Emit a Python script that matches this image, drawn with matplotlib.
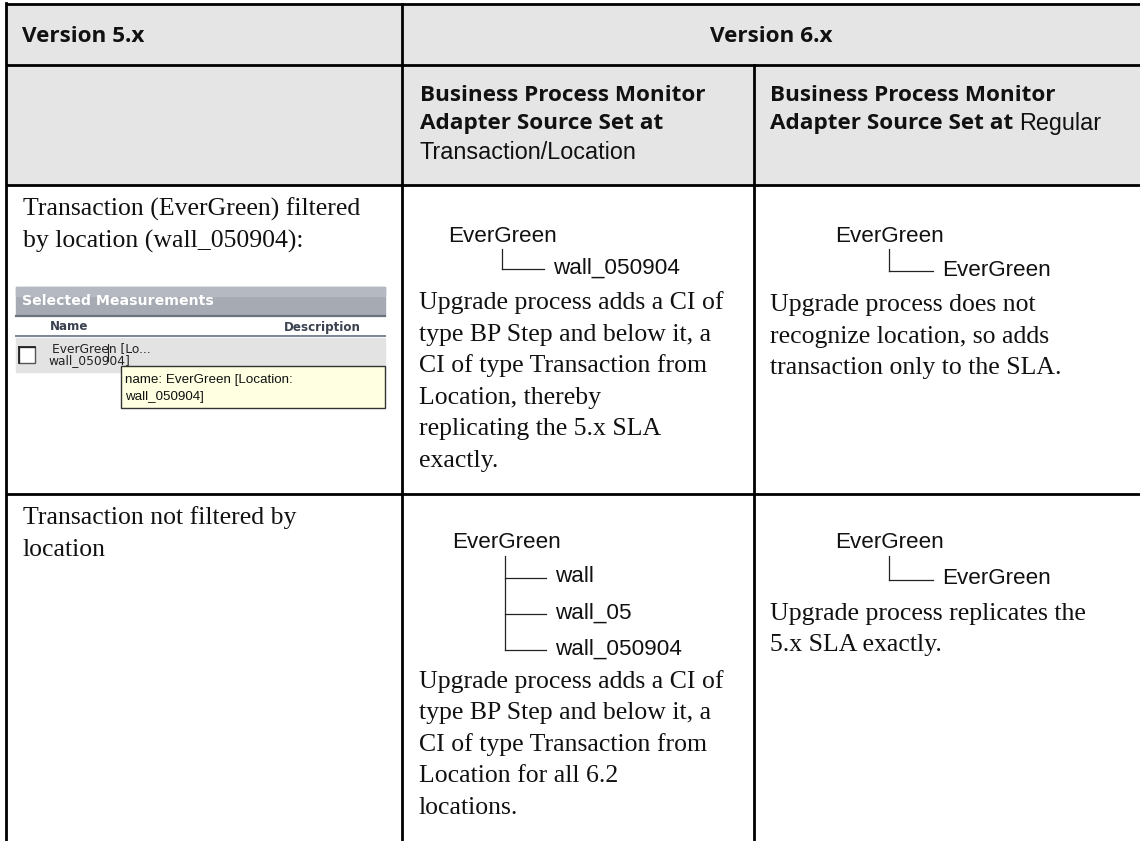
import matplotlib
matplotlib.use("Agg")
import matplotlib.pyplot as plt
from matplotlib.patches import Rectangle

W, H = 1140, 841

# table content
top_headers = ["Version 5.x", "Version 6.x"]
hdr_bold = ["Business Process Monitor", "Adapter Source Set at"]
hdr_setting = ["Transaction/Location", "Regular"]

v5_rows = [["Transaction (EverGreen) filtered", "by location (wall_050904):"],
           ["Transaction not filtered by", "location"]]

tree_root = "EverGreen"
tree_children = [["wall_050904"], ["EverGreen"],
                 ["wall", "wall_05", "wall_050904"], ["EverGreen"]]

notes = [["Upgrade process adds a CI of", "type BP Step and below it, a",
          "CI of type Transaction from", "Location, thereby",
          "replicating the 5.x SLA", "exactly."],
         ["Upgrade process does not", "recognize location, so adds",
          "transaction only to the SLA."],
         ["Upgrade process adds a CI of", "type BP Step and below it, a",
          "CI of type Transaction from", "Location for all 6.2",
          "locations."],
         ["Upgrade process replicates the", "5.x SLA exactly."]]

shot_title = "Selected Measurements"
shot_cols = ["Name", "Description"]
shot_item = ["EverGreen [Lo...", "wall_050904]"]
shot_tip = ["name: EverGreen [Location:", "wall_050904]"]

fig = plt.figure(figsize=(W / 100, H / 100), dpi=100)
ax = fig.add_axes([0, 0, 1, 1])
ax.set_xlim(0, W)
ax.set_ylim(H, 0)
ax.axis("off")

BODY = dict(family="Liberation Serif", fontsize=18.5, color="#111111", va="center")
HEAD = dict(family="Open Sans", fontweight="bold", fontsize=16.2, color="#111111", va="center")
SANS = dict(family="Liberation Sans", fontsize=16.8, color="#111111", va="center")
TREE = dict(family="Liberation Sans", fontsize=16.2, color="#111111", va="center")

# header background
ax.add_patch(Rectangle((6, 4), W - 6, 181, color="#e5e5e5", zorder=0))

# grid lines
lw = 2.0
for y in [4, 65, 185, 494]:
    ax.plot([6, W], [y, y], color="black", lw=lw, solid_capstyle="butt")
ax.plot([6, 6], [3, H], color="black", lw=lw)
ax.plot([402, 402], [4, H], color="black", lw=lw)
ax.plot([754, 754], [65, H], color="black", lw=lw)

# header text
ax.text(22, 36, top_headers[0], **HEAD)
ax.text((402 + W) / 2, 36, top_headers[1], ha="center", **HEAD)

fig.canvas.draw()
renderer = fig.canvas.get_renderer()
inv = ax.transData.inverted()

for i, x0 in enumerate([420, 770]):
    for j, line in enumerate(hdr_bold):
        t = ax.text(x0, 95 + 28.5 * j, line, **HEAD)
    if i == 0:
        ax.text(x0, 95 + 28.5 * 2, hdr_setting[0], **SANS)
    else:
        bb = t.get_window_extent(renderer)
        xe = inv.transform((bb.x1, bb.y0))[0]
        ax.text(xe + 6, 95 + 28.5, hdr_setting[1], **SANS)

# version 5.x column text
for lines, y0 in zip(v5_rows, [209, 518]):
    for k, s in enumerate(lines):
        ax.text(23, y0 + 32 * k, s, **BODY)


def draw_tree(xr, yr, xv, xc, ys, labels):
    ax.text(xr, yr, tree_root, **TREE)
    ax.plot([xv, xv], [yr + 13, ys[-1]], color="#222222", lw=0.9)
    for y, lab in zip(ys, labels):
        ax.plot([xv, xc - 9], [y, y], color="#222222", lw=0.9)
        ax.text(xc, y - 1, lab, **TREE)


draw_tree(448, 236, 502, 553, [269], tree_children[0])
draw_tree(835, 236, 889, 942, [271], tree_children[1])
draw_tree(452, 543, 505, 555, [578, 614, 650], tree_children[2])
draw_tree(835, 543, 889, 942, [580], tree_children[3])

for lines, (x0, y0) in zip(notes, [(419, 303), (770, 305), (419, 682), (770, 614)]):
    for k, s in enumerate(lines):
        ax.text(x0, y0 + 31.5 * k, s, **BODY)

# screenshot of the 5.x "Selected Measurements" list
ax.add_patch(Rectangle((16, 287), 369, 28, color="#a6aab3", zorder=1))
ax.add_patch(Rectangle((16, 287), 369, 9, color="#b5b9c1", zorder=1))
ax.plot([16, 385], [316, 316], color="#6e7380", lw=1.6)
ax.text(22, 301, shot_title, family="DejaVu Sans", fontweight="bold",
        fontsize=10.2, color="white", va="center")
ax.text(50, 327, shot_cols[0], family="DejaVu Sans", fontweight="bold",
        fontsize=8.6, color="#3a4250", va="center")
ax.text(361, 327, shot_cols[1], family="DejaVu Sans", fontweight="bold",
        fontsize=8.6, color="#3a4250", va="center", ha="right")
ax.plot([16, 385], [336, 336], color="#7c8494", lw=1.4)
ax.add_patch(Rectangle((16, 338), 369, 34, color="#e3e3e3", zorder=1))
ax.add_patch(Rectangle((19, 347), 16, 16, facecolor="white",
                       edgecolor="#555555", lw=1.0, zorder=2))
ax.plot([19, 35], [347, 347], color="#222222", lw=1.3, zorder=3)
ax.plot([19, 19], [347, 363], color="#222222", lw=1.3, zorder=3)
ax.text(52, 349, shot_item[0], family="DejaVu Sans", fontsize=8.8,
        color="#222222", va="center", zorder=3)
ax.text(48, 361, shot_item[1], family="DejaVu Sans", fontsize=8.8,
        color="#222222", va="center", zorder=3)
ax.plot([108, 108], [344, 361], color="#222222", lw=0.8, zorder=3)
ax.add_patch(Rectangle((121, 366), 264, 42, facecolor="#ffffe1",
                       edgecolor="#333333", lw=1.0, zorder=4))
for k, s in enumerate(shot_tip):
    ax.text(125, 380 + 17 * k, s, family="Liberation Sans", fontsize=9.6,
            color="#111111", va="center", zorder=5)

fig.savefig("out.png", dpi=100)
